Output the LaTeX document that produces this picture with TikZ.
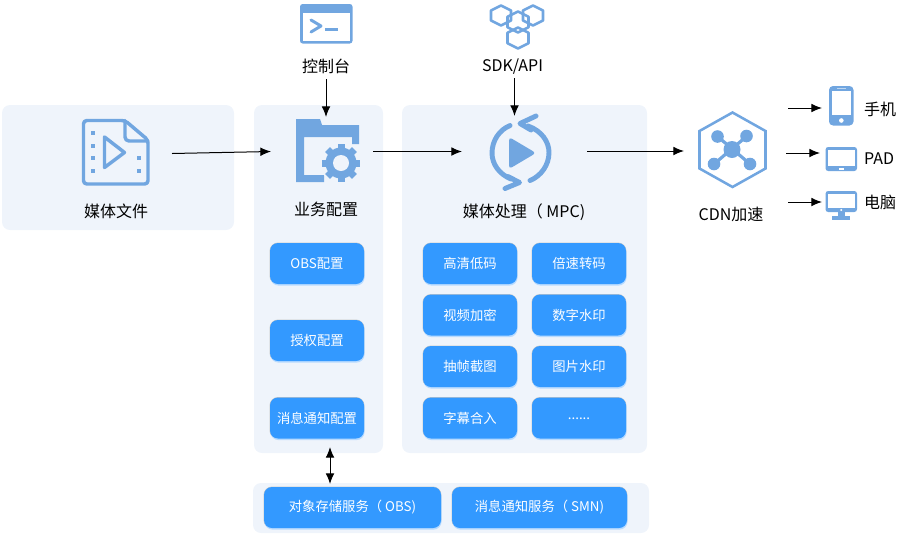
\documentclass[tikz,border=0pt]{standalone}
\usepackage{fontspec}
\setmainfont{Noto Sans CJK SC}
\usetikzlibrary{arrows.meta}
\definecolor{panelc}{HTML}{EFF4FB}
\definecolor{btnc}{HTML}{3399FF}
\definecolor{iconc}{HTML}{71A6E0}
\tikzset{
  x=0.75pt,y=-0.75pt,
  btnbox/.style={fill=btnc,draw=none,rounded corners=6,text=white,font=\fontsize{10}{12}\selectfont,inner sep=0pt,
    preaction={draw=black!22,line width=0.7pt,fill=none},
    preaction={fill=btnc!35,draw=none,transform canvas={yshift=-1.2pt,xshift=0.4pt}}},
  lbl/.style={font=\fontsize{12}{14}\selectfont,text=black,inner sep=0pt},
  flow/.style={-{Latex[length=8pt,width=6.5pt]},line width=0.75pt,black},
  dblflow/.style={{Latex[length=8pt,width=6.5pt]}-{Latex[length=8pt,width=6.5pt]},line width=0.75pt,black},
  iconline/.style={draw=iconc,line width=2.5pt,line join=round,line cap=round},
}
\newcommand{\btn}[6]{\node[btnbox,minimum width=#4*0.75pt,minimum height=#5*0.75pt] (#1) at (#2,#3) {\raisebox{0.6pt}{#6}};}
\newcommand{\hexa}[3]{\draw[iconline,line width=2pt] (#1-#3,#2-#3*0.5) -- (#1,#2-#3) -- (#1+#3,#2-#3*0.5) -- (#1+#3,#2+#3*0.5) -- (#1,#2+#3) -- (#1-#3,#2+#3*0.5) -- cycle;}
\begin{document}
\begin{tikzpicture}
\useasboundingbox (0,0) rectangle (905,536);
% panels
\fill[panelc,rounded corners=6] (2,105) rectangle (234,230);
\fill[panelc,rounded corners=6] (254,105) rectangle (383,453);
\fill[panelc,rounded corners=6] (402,105) rectangle (647,453);
\fill[panelc,rounded corners=6] (253,483) rectangle (649,533);
% buttons
\btn{b1}{317}{263.5}{94}{41}{OBS配置}
\btn{b2}{317}{340.5}{94}{41}{授权配置}
\btn{b3}{317}{418}{94}{41}{消息通知配置}
\btn{m1}{470}{263.5}{94}{41}{高清低码}
\btn{m2}{579}{263.5}{94}{41}{倍速转码}
\btn{m3}{470}{315}{94}{41}{视频加密}
\btn{m4}{579}{315}{94}{41}{数字水印}
\btn{m5}{470}{366.5}{94}{41}{抽帧截图}
\btn{m6}{579}{366.5}{94}{41}{图片水印}
\btn{m7}{470}{418}{94}{41}{字幕合入}
\btn{m8}{579}{418}{94}{41}{\raisebox{-3pt}{......}}
\btn{s1}{352.5}{507.5}{177}{41}{对象存储服务（ OBS)}
\btn{s2}{539.5}{507.5}{175}{41}{消息通知服务（ SMN)}
% labels
\node[lbl] (lconsole) at (326,66) {控制台};
\node[lbl] (lsdk) at (512.5,66.5) {SDK/API};
\node[lbl] (lmedia) at (116,211) {媒体文件};
\node[lbl] (lbiz) at (326,209) {业务配置};
\node[lbl] (lmpc) at (524,212) {媒体处理（ MPC)};
\node[lbl] (lcdn) at (731,214) {CDN加速};
\node[lbl] (lphone) at (880,109) {手机};
\node[lbl] (lpad) at (879,158.5) {PAD};
\node[lbl] (lpc) at (880,202) {电脑};
% terminal icon
\fill[iconc,rounded corners=2] (300,4) rectangle (352.5,43.5);
\fill[white] (302.5,13) rectangle (350,41);
\draw[iconline,line width=2.2pt] (311,20) -- (321,26) -- (311,32);
\draw[iconline,line width=2.2pt,line cap=butt] (325,29.5) -- (338,29.5);
% media file icon
\draw[iconline,line width=2.6pt,rounded corners=2.5] (125,120.5) -- (83.5,120.5) -- (83.5,184) -- (148,184) -- (148,140) -- cycle;
\draw[iconline,line width=2.6pt,rounded corners=3] (125,120.5) -- (125,141) -- (148,141);
\foreach \yy in {133,146,158,171} \fill[iconc] (90.5,\yy-2) rectangle (94.5,\yy+2);
\foreach \yy in {158,171} \fill[iconc] (137,\yy-2) rectangle (141,\yy+2);
\draw[iconline,line width=2.6pt] (104.5,137) -- (124.5,152.5) -- (104.5,167.5) -- cycle;
% folder icon
\fill[iconc] (296,119) -- (320,119) -- (322,125) -- (359,125) -- (359,144) -- (352,144) -- (352,137) -- (304,137) -- (304,175) -- (324,175) -- (324,182) -- (296,182) -- cycle;
\fill[panelc] (341,163) circle (21);
\fill[iconc] (341,163) circle (15.5);
\foreach \a in {0,45,...,315}
  \fill[iconc,rotate around={\a:(341,163)}] (337.5,144) rectangle (344.5,152);
\fill[panelc] (341,163) circle (8);
% mpc icon
\draw[iconline,line width=3.7pt] (530,180.5) .. controls (541,176) and (549,165) .. (549,152.5) .. controls (549,142) and (542,131) .. (528,126);
\draw[iconline,line width=3.7pt] (536,116) -- (520,123.5) -- (531,130);
\draw[iconline,line width=3.7pt] (510,125.5) .. controls (499,130) and (492,141) .. (492,153) .. controls (492,164) and (499,174) .. (511,179);
\draw[iconline,line width=3.7pt] (505,188.5) -- (519.5,182.5) -- (508,176.5);
\fill[iconc,rounded corners=2.5] (509,137) -- (536,153) -- (509,169) -- cycle;
% cdn icon
\draw[iconc,line width=1.9pt,line join=miter] (732.5,112.5) -- (765.5,131) -- (765.5,168.5) -- (732.5,187) -- (699.5,168.5) -- (699.5,131) -- cycle;
\draw[iconc,line width=2.4pt] (717,136) -- (750,164) (747,136) -- (714,164);
\fill[iconc] (732,149.5) circle (8.5) (717.5,136.5) circle (6.3) (746.5,136) circle (6.3) (714,164) circle (6.3) (750,164) circle (6.3);
% sdk icon
\hexa{501}{15.5}{10}
\hexa{533}{15.5}{10}
\hexa{518}{38}{10.5}
\hexa{518}{22}{10.5}
% phone
\fill[iconc,rounded corners=3] (829,86) rectangle (853.5,125.5);
\fill[white] (831.5,91) rectangle (851,115);
\fill[white] (841.3,120.5) circle (2.3);
\fill[iconc!45!white] (837,87.6) rectangle (846,88.9);
% pad
\fill[iconc,rounded corners=2] (825.5,147) rectangle (857,171);
\fill[white] (828,150) rectangle (854.5,166);
\fill[white] (839,167.5) rectangle (843.5,170);
% monitor
\fill[iconc,rounded corners=2] (825.5,191) rectangle (857,212);
\fill[white] (828,194) rectangle (854.5,208);
\fill[white] (841.2,210) circle (1.1);
\fill[iconc] (837.5,212) rectangle (844.5,217);
\fill[iconc] (832,216) rectangle (850,219.5);
% connector ends
\coordinate (a1) at (172,153.5);
\coordinate (a2) at (271,151.5);
\coordinate (c1) at (326,79);
\coordinate (c2) at (326,117);
\coordinate (b2a) at (373,151.5);
\coordinate (b2b) at (462,151.5);
\coordinate (d1) at (514.5,78);
\coordinate (d2) at (514.5,116);
\coordinate (e1) at (587,151);
\coordinate (e2) at (684,151);
\coordinate (p1) at (788,108);
\coordinate (p2) at (822,108);
\coordinate (q1) at (786,153);
\coordinate (q2) at (820,153);
\coordinate (r1) at (788,202);
\coordinate (r2) at (822,202);
\coordinate (u1) at (330,447);
\coordinate (u2) at (330,484);
\draw[flow] (a1) -- (a2);
\draw[flow] (c1) -- (c2);
\draw[flow] (b2a) -- (b2b);
\draw[flow] (d1) -- (d2);
\draw[flow] (e1) -- (e2);
\draw[flow] (p1) -- (p2);
\draw[flow] (q1) -- (q2);
\draw[flow] (r1) -- (r2);
\draw[dblflow] (u1) -- (u2);
\end{tikzpicture}
\end{document}
